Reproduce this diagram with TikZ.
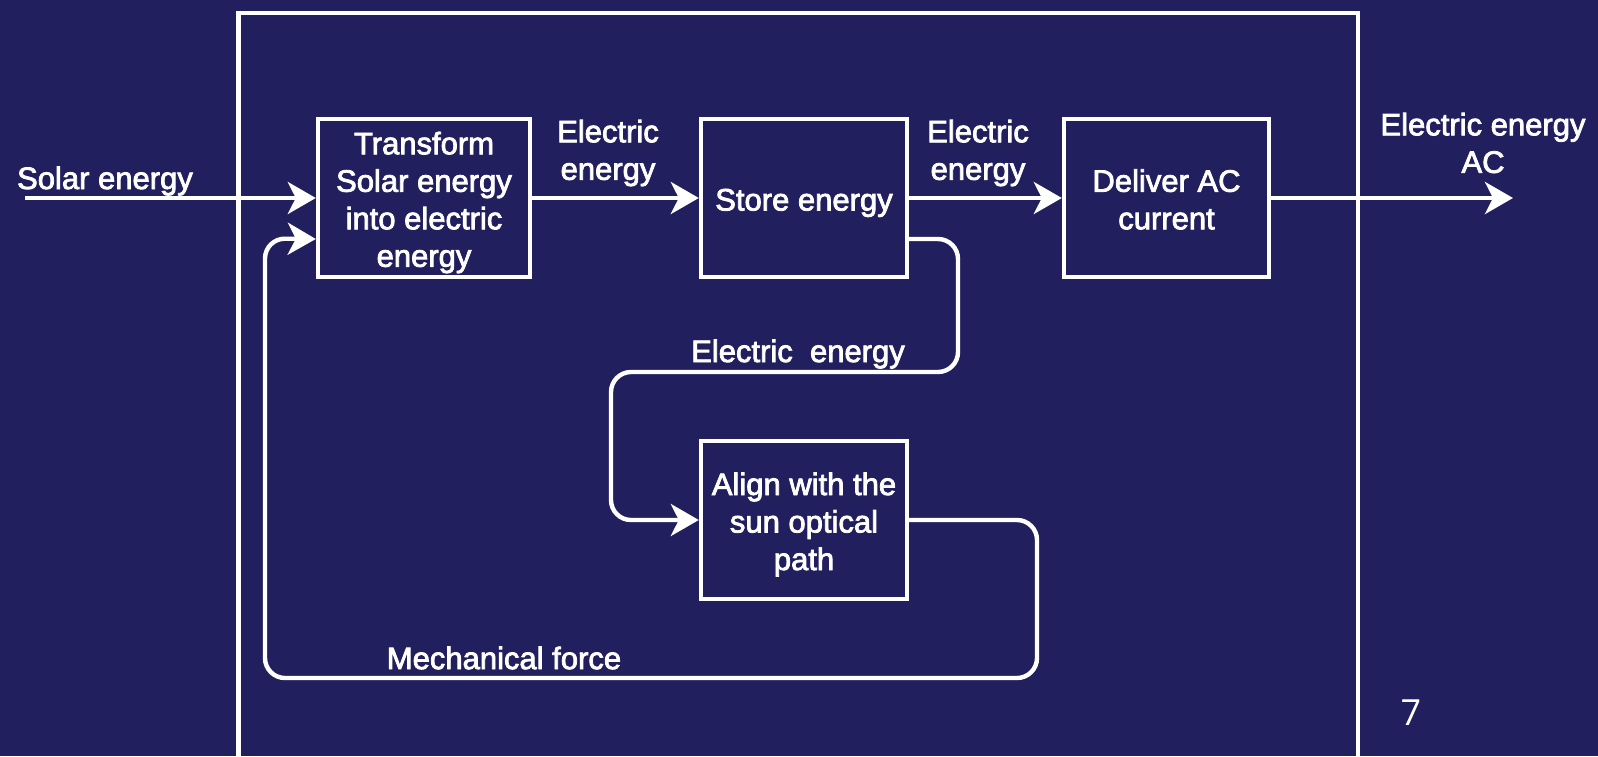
\documentclass[tikz,border=0pt]{standalone}
\usepackage{fontspec}
\setmainfont{Liberation Sans}[FakeBold=2.5]
\newfontfamily\pagenumfont{Open Sans}
\usetikzlibrary{arrows.meta}
\definecolor{bgnavy}{RGB}{33,31,94}

% set a block of centred lines a little lower without changing its size
\newcommand{\lowtext}[1]{\raisebox{-2.5pt}[\height][\depth]{\begin{tabular}{@{}c@{}}#1\end{tabular}}}

\begin{document}
\begin{tikzpicture}[x=0.5pt,y=-0.5pt,
  every node/.style={text=white, font=\fontsize{15.5}{18.75}\selectfont, inner sep=0pt},
  block/.style={draw=white, line width=2.2pt, minimum height=79pt, align=center},
  flow/.style={draw=white, line width=2.2pt, rounded corners=10pt,
    -{Stealth[length=14pt,width=16pt,inset=4pt]}},
  lbl/.style={align=center},
  frameline/.style={draw=white, line width=2.2pt}
]
% page and background
\useasboundingbox (0,0) rectangle (1598,756);
\fill[bgnavy] (0,0) rectangle (1598,756);

% system boundary
\draw[frameline] (238.5,770) -- (238.5,13) -- (1358,13) -- (1358,770);

% function blocks
\node[block, minimum width=106pt] (tr) at (424,198)
  {\lowtext{Transform\\Solar energy\\into electric\\energy}};
\node[block, minimum width=103pt] (st) at (804,198) {\lowtext{Store energy}};
\node[block, minimum width=102.5pt] (dl) at (1166.5,198) {\lowtext{Deliver AC\\current}};
\node[block, minimum width=103pt] (al) at (804,520)
  {\lowtext{Align with the\\sun optical\\path}};

% external input and output ends
\coordinate (solarin) at (25,198);
\coordinate (acout) at (1513,198);

% main energy flow
\draw[flow] (solarin) -- (tr.west);
\draw[flow] (tr.east) -- (st.west);
\draw[flow] (st.east) -- (dl.west);
\draw[flow] (dl.east) -- (acout);

% electric energy feeding the tracker
\draw[flow] ([yshift=-20.5pt]st.east) -| (958,372) -| (611,520) -- (al.west);

% mechanical force back to the converter
\draw[flow] (al.east) -| (1037,678) -| (265,238.5) -- ([yshift=-20.5pt]tr.west);

% flow labels
\node[lbl] (lsolar) at (105,181) {Solar energy};
\node[lbl] (le1) at (608,153) {Electric\\energy};
\node[lbl] (le2) at (978,153) {Electric\\energy};
\node[lbl] (lout) at (1483,143) {Electric energy\\AC};
\node[lbl] (le3) at (798,354) {Electric\ \ energy};
\node[lbl] (lmech) at (504,658) {Mechanical force};

% page number
\node[font=\pagenumfont\fontsize{18}{21}\selectfont] (pnum) at (1411,713) {7};
\end{tikzpicture}
\end{document}
